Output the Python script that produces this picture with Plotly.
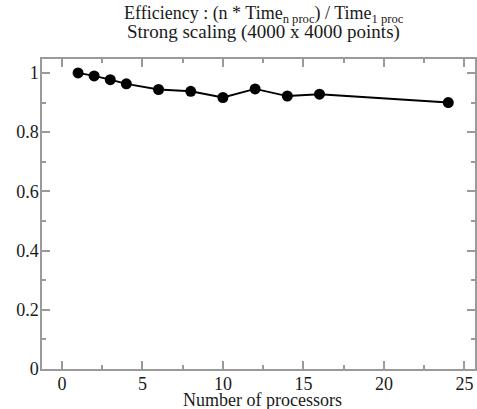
import plotly.graph_objects as go

processors = [1, 2, 3, 4, 6, 8, 10, 12, 14, 16, 24]
efficiency = [1.0, 0.99, 0.977, 0.963, 0.944, 0.938, 0.917, 0.946, 0.922, 0.928, 0.90]

title_line1 = "Efficiency : (n * Time<sub>n proc</sub>) / Time<sub>1 proc</sub>"
title_line2 = "Strong scaling (4000 x 4000 points)"
x_title = "Number of processors"

FONT = "Liberation Serif"
AXC = "#9a9a9a"
TXT = "#1a1a1a"

fig = go.Figure()
fig.add_trace(go.Scatter(
    x=processors, y=efficiency, mode="lines+markers",
    line=dict(color="black", width=1.8),
    marker=dict(color="black", size=11),
    showlegend=False,
))

axis_common = dict(
    showgrid=False, zeroline=False, showline=True, linecolor=AXC, linewidth=1.5,
    mirror="ticks", ticks="inside", ticklen=8, tickwidth=1.5, tickcolor=AXC,
    tickfont=dict(family=FONT, size=18, color=TXT),
    ticklabelstandoff=-2,
)

fig.update_xaxes(
    range=[-1.24, 25.66], tickmode="linear", tick0=0, dtick=5,
    minor=dict(dtick=2.5, ticks="inside", ticklen=4, tickcolor=AXC, tickwidth=1.5),
    **axis_common,
)
fig.update_yaxes(
    range=[0, 1.047], tickmode="linear", tick0=0, dtick=0.2,
    minor=dict(dtick=0.1, ticks="inside", ticklen=4, tickcolor=AXC, tickwidth=1.5),
    **axis_common,
)

fig.add_annotation(text=title_line1, xref="paper", yref="paper", x=0.5126, y=1.145,
                   showarrow=False, xanchor="center", yanchor="middle",
                   font=dict(family=FONT, size=18, color=TXT))
fig.add_annotation(text=title_line2, xref="paper", yref="paper", x=0.5126, y=1.086,
                   showarrow=False, xanchor="center", yanchor="middle",
                   font=dict(family=FONT, size=19, color=TXT))
fig.add_annotation(text=x_title, xref="paper", yref="paper", x=0.51, y=-0.1,
                   showarrow=False, xanchor="center", yanchor="middle",
                   font=dict(family=FONT, size=18, color=TXT))

fig.update_layout(
    width=477, height=409,
    margin=dict(l=42, r=0, t=59, b=40),
    paper_bgcolor="white", plot_bgcolor="white",
)

fig.write_html("out.html")
